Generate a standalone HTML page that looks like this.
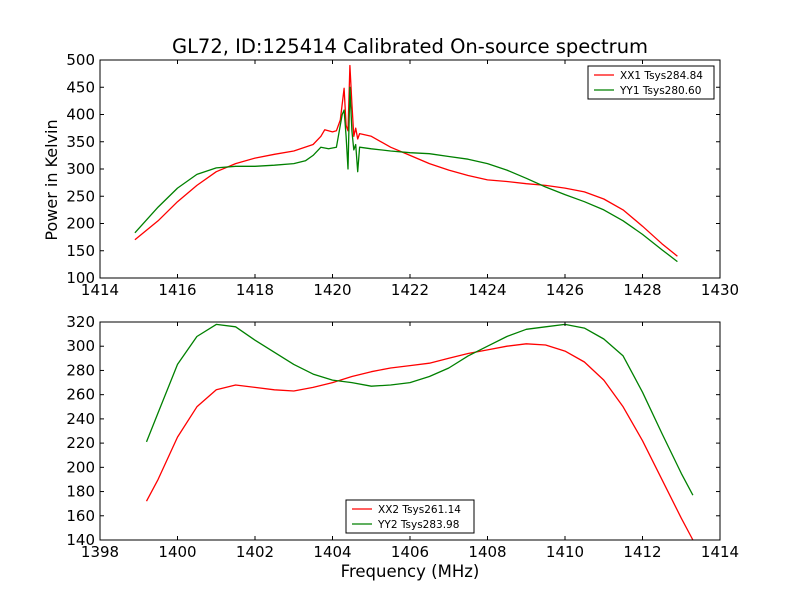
<!DOCTYPE html>
<html><head><meta charset="utf-8"><style>
body{margin:0;background:#fff}
svg{font-family:"DejaVu Sans","Liberation Sans",sans-serif}
</style></head><body>
<svg id="c" width="800" height="600" xmlns="http://www.w3.org/2000/svg">
<rect width="800" height="600" fill="#fff"/>
<text x="410" y="53" text-anchor="middle" font-size="19.5">GL72, ID:125414 Calibrated On-source spectrum</text>
<text transform="translate(57,180) rotate(-90)" text-anchor="middle" font-size="16">Power in Kelvin</text>
<text x="410" y="577" text-anchor="middle" font-size="16.5">Frequency (MHz)</text>
</svg>
<script>
const topXTicks=[1414,1416,1418,1420,1422,1424,1426,1428,1430];
const topYTicks=[100,150,200,250,300,350,400,450,500];
const botXTicks=[1398,1400,1402,1404,1406,1408,1410,1412,1414];
const botYTicks=[140,160,180,200,220,240,260,280,300,320];
const xx1F=[1414.9,1415.5,1416,1416.5,1417,1417.5,1418,1418.5,1419,1419.5,1419.7,1419.8,1420,1420.1,1420.2,1420.3,1420.35,1420.4,1420.45,1420.5,1420.55,1420.6,1420.65,1420.7,1421,1421.5,1422,1422.5,1423,1423.5,1424,1424.5,1425,1425.5,1426,1426.5,1427,1427.5,1428,1428.5,1428.9];
const xx1V=[170,205,240,270,295,310,320,327,333,345,360,372,368,370,390,448,380,370,490,420,360,375,355,365,360,340,325,310,298,288,280,277,273,270,265,258,245,225,195,163,140];
const yy1F=[1414.9,1415.5,1416,1416.5,1417,1417.5,1418,1418.5,1419,1419.3,1419.5,1419.7,1419.9,1420.1,1420.25,1420.3,1420.35,1420.4,1420.45,1420.5,1420.55,1420.6,1420.65,1420.7,1421,1421.5,1422,1422.5,1423,1423.5,1424,1424.5,1425,1425.5,1426,1426.5,1427,1427.5,1428,1428.5,1428.9];
const yy1V=[183,230,265,290,302,305,305,307,310,315,325,340,337,340,400,408,360,300,450,370,335,345,295,340,337,333,330,328,323,318,310,298,283,267,253,240,225,205,180,152,130];
const xx2F=[1399.2,1399.5,1400,1400.5,1401,1401.5,1402,1402.5,1403,1403.5,1404,1404.5,1405,1405.5,1406,1406.5,1407,1407.5,1408,1408.5,1409,1409.5,1410,1410.5,1411,1411.5,1412,1412.5,1413,1413.3];
const xx2V=[172,190,225,250,264,268,266,264,263,266,270,275,279,282,284,286,290,294,297,300,302,301,296,287,272,250,222,190,158,140];
const yy2F=[1399.2,1399.5,1400,1400.5,1401,1401.5,1402,1402.5,1403,1403.5,1404,1404.5,1405,1405.5,1406,1406.5,1407,1407.5,1408,1408.5,1409,1409.5,1410,1410.5,1411,1411.5,1412,1412.5,1413,1413.3];
const yy2V=[221,245,285,308,318,316,305,295,285,277,272,270,267,268,270,275,282,292,300,308,314,316,318,315,306,292,262,228,195,177];
const NS='http://www.w3.org/2000/svg';
const svg=document.getElementById('c');
function mk(t,a,p){const e=document.createElementNS(NS,t);for(const k in a)e.setAttribute(k,a[k]);(p||svg).appendChild(e);return e;}
function panel(name,y0,y1,xmin,xmax,ymin,ymax,xt,yt,series,leg){
 const g=mk('g',{});
 
 
 const X=v=>100+(v-xmin)/(xmax-xmin)*620, Y=v=>y1-(v-ymin)/(ymax-ymin)*(y1-y0);
 series.forEach(s=>{
  const p=mk('polyline',{points:s.f.map((f,i)=>X(f).toFixed(1)+','+Y(s.v[i]).toFixed(1)).join(' '),fill:'none',stroke:s.c,'stroke-width':1.3,'stroke-linejoin':'round'},g);
  
  
 });
 mk('rect',{x:100,y:y0,width:620,height:y1-y0,fill:'none',stroke:'#000'},g);
 xt.forEach(t=>{const x=X(t);mk('line',{x1:x,x2:x,y1:y1,y2:y1-4,stroke:'#000'},g);mk('line',{x1:x,x2:x,y1:y0,y2:y0+4,stroke:'#000'},g);
  const tx=mk('text',{x:x,y:y1+17,'text-anchor':'middle','font-size':15},g);tx.textContent=t;
  
  });
 yt.forEach(t=>{const y=Y(t);mk('line',{x1:100,x2:104,y1:y,y2:y,stroke:'#000'},g);mk('line',{x1:716,x2:720,y1:y,y2:y,stroke:'#000'},g);
  const tx=mk('text',{x:95,y:y+5,'text-anchor':'end','font-size':15},g);tx.textContent=t;
  
  });
 const lg=mk('g',{},g);
 
 
 mk('rect',{x:leg.x,y:leg.y,width:leg.w,height:33,fill:'#fff',stroke:'#000'},lg);
 series.forEach((s,i)=>{const yy=leg.y+9+i*15;mk('line',{x1:leg.x+6,x2:leg.x+26,y1:yy,y2:yy,stroke:s.c,'stroke-width':1.3},lg);
  const tx=mk('text',{x:leg.x+32,y:yy+4,'font-size':10.5},lg);tx.textContent=s.label;
  
  });
}
panel('top-panel',60,278,1414,1430,100,500,topXTicks,topYTicks,
 [{f:xx1F,v:xx1V,c:'#ff0000',n:'xx1',label:'XX1 Tsys284.84'},{f:yy1F,v:yy1V,c:'#008000',n:'yy1',label:'YY1 Tsys280.60'}],{x:588,y:66,w:126});
panel('bottom-panel',322,540,1398,1414,140,320,botXTicks,botYTicks,
 [{f:xx2F,v:xx2V,c:'#ff0000',n:'xx2',label:'XX2 Tsys261.14'},{f:yy2F,v:yy2V,c:'#008000',n:'yy2',label:'YY2 Tsys283.98'}],{x:346,y:500,w:128});
</script>
</body></html>
